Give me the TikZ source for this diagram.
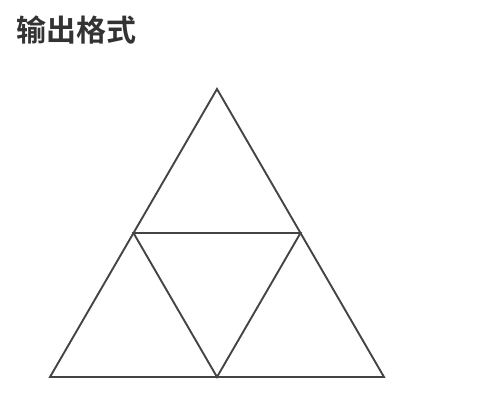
\documentclass[tikz,border=0pt]{standalone}
\usepackage{fontspec}
\newfontfamily\cjk{Noto Sans CJK SC}[BoldFont={Noto Sans CJK SC Bold}]
\definecolor{linegray}{HTML}{444444}
\definecolor{titlegray}{HTML}{333333}
\begin{document}
\begin{tikzpicture}[x=1pt,y=-1pt,
  edge/.style={draw=linegray,line width=1.9pt,line join=miter},
  title/.style={anchor=west,inner sep=0pt,text=titlegray,font=\cjk\bfseries\fontsize{30}{34}\selectfont}]
\useasboundingbox (0,0) rectangle (483,403);
\node[title] (t) at (16,30) {输出格式};
\coordinate (A) at (217,89);
\coordinate (B) at (50,377);
\coordinate (C) at (384,377);
\coordinate (L) at (133.5,233);
\coordinate (R) at (300.5,233);
\coordinate (M) at (217,377);
\draw[edge] (A) -- (B) -- (C) -- cycle;
\draw[edge] (L) -- (R) -- (M) -- cycle;
\end{tikzpicture}
\end{document}
